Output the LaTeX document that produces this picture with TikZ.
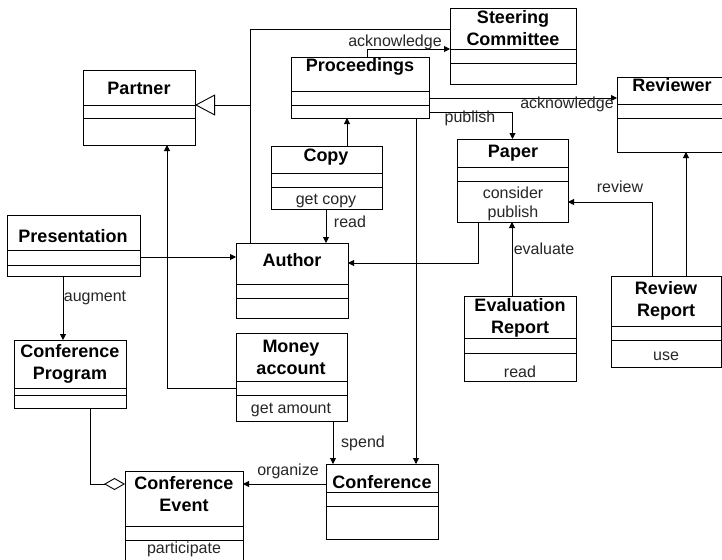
\documentclass[tikz,border=0pt]{standalone}
\usepackage{fontspec}
\setmainfont{Liberation Sans}
\usetikzlibrary{arrows.meta,fit}
\tikzset{
 cls/.style={draw, line width=0.9pt, inner sep=0pt, outer sep=0pt},
 ttl/.style={font=\fontsize{18}{22}\selectfont\bfseries, align=center, inner sep=0pt},
 lbl/.style={font=\fontsize{16}{20}\selectfont, inner sep=0pt, text=black!85},
 con/.style={line width=0.9pt},
 arr/.style={con, -{Triangle[length=6pt,width=6pt]}},
 gen/.style={con, -{Triangle[open,length=20pt,width=21pt]}},
 agg/.style={con, -{Diamond[open,length=21pt,width=12pt]}},
}
\newcommand\umlcls[7]{%
 \node[cls, fit={(#2,#3) (#4,#5)}] (#1) {};
 \draw[con] (#2,#6) -- (#4,#6) (#2,#7) -- (#4,#7);
}
\begin{document}
\begin{tikzpicture}[x=1pt,y=-1pt]
\clip (0,0) rectangle (722,559);
\fill[white] (0,0) rectangle (722,559);
% classes
\umlcls{partner}{83}{70}{195}{145}{105}{118}
\node[ttl] (partner-t) at (139,88) {Partner};
\umlcls{sc}{450}{8}{576}{84}{49}{63}
\node[ttl] (sc-t) at (513,28) {Steering\\Committee};
\umlcls{proc}{291}{57}{429}{118}{91}{105}
\node[ttl] (proc-t) at (360,67) {Proceedings};
\umlcls{rev}{617}{77}{728}{152}{104}{118}
\node[ttl] (rev-t) at (672,85) {Reviewer};
\umlcls{copy}{271}{146}{382}{209}{173}{187}
\node[ttl] (copy-t) at (326,157) {Copy};
\node[lbl] (copy-o) at (326,201) {get copy};
\umlcls{paper}{457}{139}{568}{222}{167}{181}
\node[ttl] (paper-t) at (513,153) {Paper};
\node[lbl] (paper-o1) at (513,193) {consider};
\node[lbl] (paper-o2) at (513,213) {publish};
\umlcls{author}{236}{243}{348}{318}{284}{298}
\node[ttl] (author-t) at (292,260) {Author};
\umlcls{pres}{7}{215}{140}{276}{250}{265}
\node[ttl] (pres-t) at (73,236) {Presentation};
\umlcls{cp}{14}{340}{126}{408}{388}{395}
\node[ttl] (cp-t) at (70,364) {Conference\\Program};
\umlcls{ma}{236}{333}{347}{421}{381}{395}
\node[ttl] (ma-t) at (291,357) {Money\\account};
\node[lbl] (ma-o) at (291,410) {get amount};
\umlcls{er}{464}{296}{576}{381}{338}{353}
\node[ttl] (er-t) at (520,318) {Evaluation\\Report};
\node[lbl] (er-o) at (520,372) {read};
\umlcls{rr}{611}{276}{721}{367}{326}{340}
\node[ttl] (rr-t) at (666,301) {Review\\Report};
\node[lbl] (rr-o) at (666,356) {use};
\umlcls{conf}{326}{464}{438}{539}{492}{506}
\node[ttl] (conf-t) at (382,482) {Conference};
\umlcls{ce}{125}{471}{243}{575}{526}{540}
\node[ttl] (ce-t) at (184,494) {Conference\\Event};
\node[lbl] (ce-o) at (184,549) {participate};
% generalization tree
\coordinate (gtop) at (250,29);
\coordinate (gj) at (250,105);
\draw[con] (author.north -| gtop) -- (gtop) -- (sc.west |- gtop);
\draw[gen] (gj) -- (partner.east |- gj);
% associations
\draw[arr] (proc.north -| 367,0) -- (367,49) -- (sc.west |- 0,49);
\node[lbl] (l-ack1) at (395,42) {acknowledge};
\draw[arr] (proc.east |- 0,98) -- (rev.west |- 0,98);
\node[lbl] (l-ack2) at (567,104) {acknowledge};
\draw[arr] (proc.east |- 0,112) -| (paper.north);
\node[lbl] (l-pub) at (470,118) {publish};
\draw[arr] (proc.south -| 416,0) -- (conf.north -| 416,0);
\draw[arr] (copy.north -| 347,0) -- (proc.south -| 347,0);
\draw[arr] (copy.south -| 326,0) -- (author.north -| 326,0);
\node[lbl] (l-read) at (350,222) {read};
\draw[arr] (pres.east |- 0,257) -- (author.west |- 0,257);
\draw[arr] (paper.south -| 478,0) |- (author.east |- 0,263);
\draw[arr] (rr.north -| 686,0) -- (rev.south -| 686,0);
\draw[arr] (rr.north -| 652,0) |- (paper.east |- 0,202);
\node[lbl] (l-rev) at (620,187) {review};
\draw[arr] (er.north -| 512,0) -- (paper.south -| 512,0);
\node[lbl] (l-eval) at (544,249) {evaluate};
\draw[arr] (pres.south -| 63,0) -- (cp.north -| 63,0);
\node[lbl] (l-aug) at (95,298) {augment};
\draw[arr] (ma.west |- 0,388) -| (partner.south -| 167,0);
\draw[arr] (ma.south -| 333,0) -- (conf.north -| 333,0);
\node[lbl] (l-spend) at (363,443) {spend};
\draw[arr] (conf.west |- 0,484) -- (ce.east |- 0,484);
\node[lbl] (l-org) at (288,471) {organize};
\draw[agg] (cp.south -| 90,0) |- (ce.west |- 0,484);
\end{tikzpicture}
\end{document}
